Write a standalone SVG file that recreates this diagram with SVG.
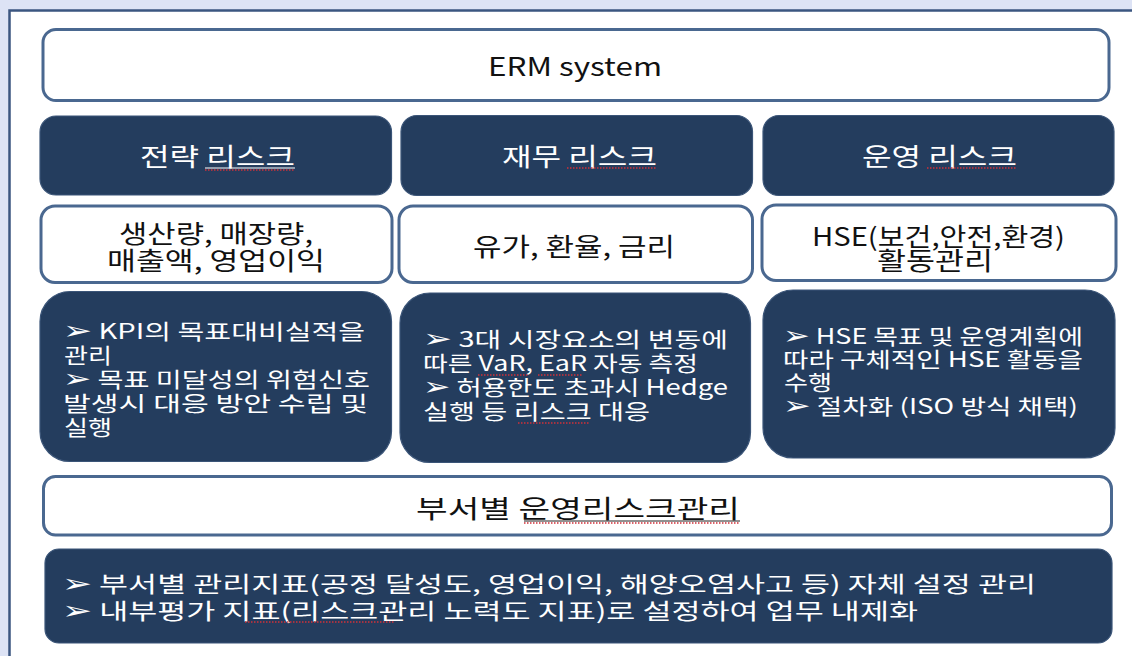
<svg xmlns="http://www.w3.org/2000/svg" width="1132" height="656" viewBox="0 0 1132 656">
  <defs>
    <style>
      .bg { fill: #dde3f5; }
      .frame { fill: #ffffff; stroke: #3b5680; stroke-width: 2.5; }
      .wbox { fill: #ffffff; stroke: #4a6890; stroke-width: 3; }
      .dbox { fill: #243d5e; stroke: #3b5578; stroke-width: 1.2; }
      text { font-family: "Noto Sans CJK KR", "DejaVu Sans", sans-serif; }
      .t-dark { fill: #111111; font-size: 25px; }
      .t-head { fill: #ffffff; font-size: 25px; }
      .t-body { fill: #ffffff; font-size: 21px; }
      .t-foot { fill: #ffffff; font-size: 22px; }
      .ar { font-family: "DejaVu Sans", sans-serif; font-size: 25px; }
      .sq { stroke: #d0303a; stroke-width: 1.3; stroke-dasharray: 1.5 1.5; fill: none; }
      .ul-w { stroke: #ffffff; stroke-width: 1; }
      .ul-k { stroke: #222222; stroke-width: 1; }
    </style>
  </defs>

  <rect class="bg" x="0" y="0" width="1132" height="656"/>
  <rect class="frame" x="9.5" y="10.5" width="1140" height="670"/>

  <g id="erm-system">
    <rect class="wbox" x="43" y="29.5" width="1066" height="71" rx="13"/>
    <text class="t-dark" x="488" y="76" textLength="174" lengthAdjust="spacingAndGlyphs">ERM system</text>
  </g>

  <g id="strategy-risk">
    <rect class="dbox" x="40" y="116" width="351.5" height="79" rx="16"/>
    <text class="t-head" x="140" y="166" textLength="155" lengthAdjust="spacingAndGlyphs">전략 리스크</text>
  </g>
  <g id="finance-risk">
    <rect class="dbox" x="401" y="115.5" width="351.5" height="80" rx="16"/>
    <text class="t-head" x="502" y="166" textLength="155" lengthAdjust="spacingAndGlyphs">재무 리스크</text>
  </g>
  <g id="operation-risk">
    <rect class="dbox" x="763" y="115.5" width="351" height="80" rx="16"/>
    <text class="t-head" x="862" y="166" textLength="155" lengthAdjust="spacingAndGlyphs">운영 리스크</text>
  </g>

  <g id="strategy-items">
    <rect class="wbox" x="41" y="206" width="351" height="76.5" rx="14"/>
    <text class="t-dark" x="119" y="243" textLength="194" lengthAdjust="spacingAndGlyphs">생산량, 매장량,</text>
    <text class="t-dark" x="107" y="270" textLength="218" lengthAdjust="spacingAndGlyphs">매출액, 영업이익</text>
  </g>
  <g id="finance-items">
    <rect class="wbox" x="399" y="206" width="353.5" height="76.5" rx="14"/>
    <text class="t-dark" x="473" y="256" textLength="202" lengthAdjust="spacingAndGlyphs">유가, 환율, 금리</text>
  </g>
  <g id="operation-items">
    <rect class="wbox" x="762" y="205" width="354" height="75.5" rx="14"/>
    <text class="t-dark" x="812" y="246" textLength="253" lengthAdjust="spacingAndGlyphs">HSE(보건,안전,환경)</text>
    <text class="t-dark" x="877" y="270" textLength="116" lengthAdjust="spacingAndGlyphs">활동관리</text>
  </g>

  <g id="strategy-detail">
    <rect class="dbox" x="40" y="291.5" width="351.5" height="170" rx="30"/>
    <text class="t-body" x="63" y="339" textLength="302" lengthAdjust="spacingAndGlyphs"><tspan class="ar">➢</tspan> KPI의  목표대비실적을</text>
    <text class="t-body" x="64" y="363" textLength="48" lengthAdjust="spacingAndGlyphs">관리</text>
    <text class="t-body" x="63" y="387" textLength="307" lengthAdjust="spacingAndGlyphs"><tspan class="ar">➢</tspan> 목표 미달성의 위험신호</text>
    <text class="t-body" x="63" y="411" textLength="305" lengthAdjust="spacingAndGlyphs">발생시 대응 방안 수립 및</text>
    <text class="t-body" x="64" y="435" textLength="48" lengthAdjust="spacingAndGlyphs">실행</text>
  </g>
  <g id="finance-detail">
    <rect class="dbox" x="400" y="293" width="350.5" height="169.5" rx="30"/>
    <text class="t-body" x="423" y="347" textLength="305" lengthAdjust="spacingAndGlyphs"><tspan class="ar">➢</tspan> 3대 시장요소의 변동에</text>
    <text class="t-body" x="423" y="371" textLength="275" lengthAdjust="spacingAndGlyphs">따른 VaR, EaR 자동 측정</text>
    <text class="t-body" x="423" y="395" textLength="305" lengthAdjust="spacingAndGlyphs"><tspan class="ar">➢</tspan> 허용한도 초과시 Hedge</text>
    <text class="t-body" x="423" y="419" textLength="227" lengthAdjust="spacingAndGlyphs">실행 등 리스크 대응</text>
  </g>
  <g id="operation-detail">
    <rect class="dbox" x="763" y="290" width="352" height="168" rx="30"/>
    <text class="t-body" x="783" y="344" textLength="300" lengthAdjust="spacingAndGlyphs"><tspan class="ar">➢</tspan> HSE 목표 및 운영계획에</text>
    <text class="t-body" x="783" y="367" textLength="300" lengthAdjust="spacingAndGlyphs">따라 구체적인 HSE 활동을</text>
    <text class="t-body" x="784" y="390" textLength="48" lengthAdjust="spacingAndGlyphs">수행</text>
    <text class="t-body" x="783" y="414" textLength="295" lengthAdjust="spacingAndGlyphs"><tspan class="ar">➢</tspan>  절차화 (ISO 방식 채택)</text>
  </g>

  <g id="dept-risk">
    <rect class="wbox" x="43.5" y="476.5" width="1068" height="58.5" rx="12"/>
    <text class="t-dark" x="416" y="518" font-size="26" textLength="324" lengthAdjust="spacingAndGlyphs">부서별  운영리스크관리</text>
  </g>
  <g id="dept-detail">
    <rect class="dbox" x="45" y="549" width="1067" height="94" rx="14"/>
    <text class="t-foot" x="62" y="592" textLength="974" lengthAdjust="spacingAndGlyphs"><tspan class="ar">➢</tspan> 부서별 관리지표(공정 달성도, 영업이익, 해양오염사고 등) 자체 설정 관리</text>
    <text class="t-foot" x="62" y="619" textLength="856" lengthAdjust="spacingAndGlyphs"><tspan class="ar">➢</tspan> 내부평가 지표(리스크관리 노력도 지표)로 설정하여 업무 내제화</text>
  </g>

  <g id="connectors"></g>

  <g id="spell-marks">
    <line class="ul-w" x1="205" y1="168" x2="295" y2="168"/>
    <line class="sq" x1="205" y1="170" x2="295" y2="170"/>
    <line class="sq" x1="567" y1="168" x2="657" y2="168"/>
    <line class="sq" x1="927" y1="168" x2="1017" y2="168"/>
    <line class="sq" x1="478" y1="375" x2="528" y2="375"/>
    <line class="sq" x1="538" y1="375" x2="583" y2="375"/>
    <line class="sq" x1="518" y1="423" x2="590" y2="423"/>
    <line class="ul-k" x1="524" y1="521" x2="740" y2="521"/>
    <line class="sq" x1="524" y1="523" x2="740" y2="523"/>
    <line class="sq" x1="245" y1="622" x2="395" y2="622"/>
  </g>
</svg>
